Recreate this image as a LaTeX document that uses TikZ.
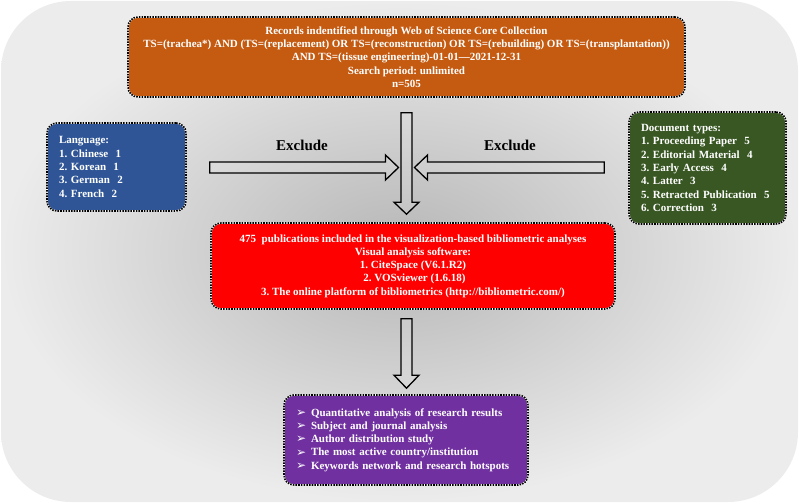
\documentclass[tikz,border=0pt]{standalone}
\usepackage{fontspec}
\setmainfont{Liberation Serif}
\newfontfamily\symfont{DejaVu Sans}
\usetikzlibrary{calc}
\definecolor{borange}{RGB}{197,90,17}
\definecolor{bblue}{RGB}{47,85,151}
\definecolor{bgreen}{RGB}{56,87,35}
\definecolor{bred}{RGB}{255,0,0}
\definecolor{bpurple}{RGB}{112,48,160}
\definecolor{bgin}{RGB}{182,182,182}
\definecolor{bgout}{RGB}{236,236,236}
\newcommand{\bul}{\makebox[15pt][l]{\raisebox{-0.3pt}{\symfont\fontsize{12}{12}\selectfont ➢}}}
\begin{document}
\frenchspacing
\begin{tikzpicture}[x=1pt,y=-1pt,
  box/.style={rounded corners=10pt, draw=white, line width=1.6pt,
    postaction={draw=black, line width=1.6pt, dash pattern=on 1.6pt off 1.1pt},
    text=white, font=\fontsize{11}{13.3}\selectfont\bfseries, inner sep=0pt},
  blk/.style={draw=black, line width=1.3pt, fill=white, fill opacity=0.12, line join=miter},
  exlabel/.style={font=\fontsize{15}{15}\selectfont\bfseries, text=black}]
\useasboundingbox (0,0) rectangle (800,503);
\path[rounded corners=70pt, inner color=bgin, outer color=bgout] (1,1) rectangle (798,502);

\node[box, fill=borange, minimum width=557pt, minimum height=80pt, align=center] (orange) at (406.5,57)
 {Records indentified through Web of Science Core Collection\\
  TS=(trachea*) AND (TS=(replacement) OR TS=(reconstruction) OR TS=(rebuilding) OR TS=(transplantation))\\
  AND TS=(tissue engineering)-01-01—2021-12-31\\
  Search period: unlimited\\
  n=505};

\node[box, fill=bblue, minimum width=139pt, minimum height=88pt, text width=115pt, inner xsep=12pt, align=left] (blue) at (116.5,167)
 {Language:\\ 1. Chinese\ \ 1\\ 2. Korean\ \ 1\\ 3. German\ \ 2\\ 4. French\ \ 2};

\node[box, fill=bgreen, minimum width=157pt, minimum height=112pt, text width=133pt, inner xsep=12pt, align=left] (green) at (707.5,168)
 {Document types:\\ 1. Proceeding Paper\ \ 5\\ 2. Editorial Material\ \ 4\\ 3. Early Access\ \ 4\\ 4. Latter\ \ 3\\ 5. Retracted Publication\ \ 5\\ 6. Correction\ \ 3};

\node[box, fill=bred, minimum width=404pt, minimum height=86pt, align=center] (red) at (413,266)
 {475\ \ publications included in the visualization-based bibliometric analyses\\
  Visual analysis software:\\
  1. CiteSpace (V6.1.R2)\\
  \ 2. VOSviewer (1.6.18)\\
  3. The online platform of bibliometrics (http://bibliometric.com/)};

\node[box, fill=bpurple, minimum width=244pt, minimum height=90pt, text width=220pt, inner xsep=12pt, align=left] (purple) at (406,440)
 {\bul Quantitative analysis of research results\\
  \bul Subject and journal analysis\\
  \bul Author distribution study\\
  \bul The most active country/institution\\
  \bul Keywords network and research hotspots};

% anchor coordinates for the block arrows
\coordinate (v1s) at ($(orange.south)+(0,15)$);
\coordinate (v1e) at ($(red.north -| orange.south)+(0,-8)$);
\coordinate (v2s) at ($(red.south -| orange.south)+(0,9)$);
\coordinate (v2e) at ($(purple.north -| orange.south)+(0,-6)$);
\coordinate (hls) at ($(blue.east)+(23,0.5)$);
\coordinate (hle) at ($(blue.east -| orange.south)+(-8,0.5)$);
\coordinate (hrs) at ($(green.west |- blue.east)+(-24,0.5)$);
\coordinate (hre) at ($(blue.east -| orange.south)+(8,0.5)$);

% horizontal block arrows
\draw[blk] ($(hls)+(0,-5.5)$) -- ($(hle)+(-13,-5.5)$) -- ($(hle)+(-13,-12.5)$) -- (hle)
  -- ($(hle)+(-13,12.5)$) -- ($(hle)+(-13,5.5)$) -- ($(hls)+(0,5.5)$) -- cycle;
\draw[blk] ($(hrs)+(0,-5.5)$) -- ($(hre)+(13,-5.5)$) -- ($(hre)+(13,-12.5)$) -- (hre)
  -- ($(hre)+(13,12.5)$) -- ($(hre)+(13,5.5)$) -- ($(hrs)+(0,5.5)$) -- cycle;
% vertical block arrows
\draw[blk] ($(v1s)+(-5.5,0)$) -- ($(v1e)+(-5.5,-12)$) -- ($(v1e)+(-12.5,-12)$) -- (v1e)
  -- ($(v1e)+(12.5,-12)$) -- ($(v1e)+(5.5,-12)$) -- ($(v1s)+(5.5,0)$) -- cycle;
\draw[blk] ($(v2s)+(-5.5,0)$) -- ($(v2e)+(-5.5,-13)$) -- ($(v2e)+(-12.5,-13)$) -- (v2e)
  -- ($(v2e)+(12.5,-13)$) -- ($(v2e)+(5.5,-13)$) -- ($(v2s)+(5.5,0)$) -- cycle;

\node[exlabel] (exl) at (302,145) {Exclude};
\node[exlabel] (exr) at (510,145) {Exclude};
\end{tikzpicture}
\end{document}
